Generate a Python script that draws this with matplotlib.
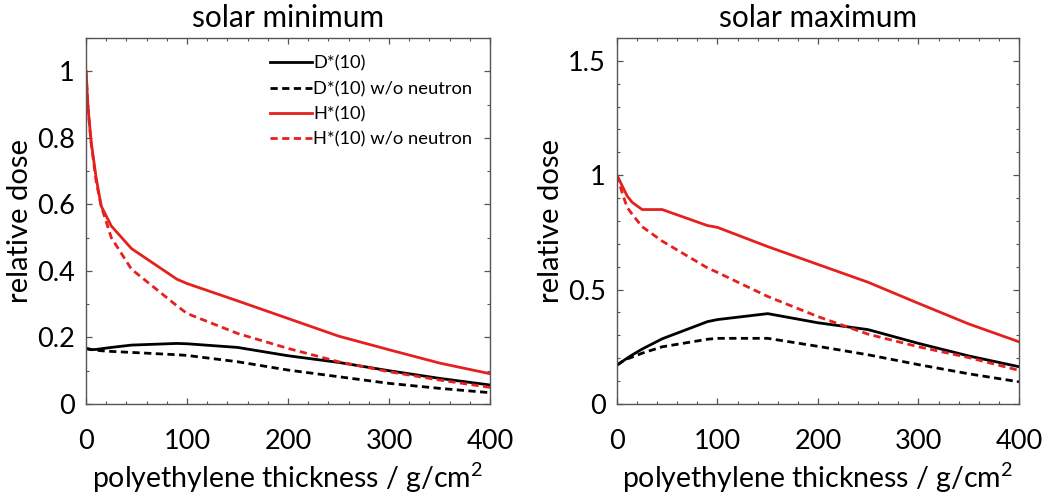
import matplotlib
matplotlib.use("Agg")
import matplotlib.pyplot as plt
from matplotlib.ticker import MultipleLocator

plt.rcParams['font.family'] = ['Lato', 'DejaVu Sans']
plt.rcParams['mathtext.fontset'] = 'custom'
plt.rcParams['mathtext.rm'] = 'Lato'
plt.rcParams['mathtext.it'] = 'Lato'

# polyethylene thickness, g/cm^2
thickness = [0, 2, 5, 10, 15, 25, 45, 90, 100, 150, 200, 250, 300, 350, 400]

# solar minimum
min_D = [0.167, 0.165, 0.163, 0.164, 0.166, 0.170, 0.177, 0.182, 0.181, 0.170, 0.145, 0.125, 0.100, 0.077, 0.057]
min_D_non = [0.167, 0.166, 0.164, 0.162, 0.160, 0.158, 0.155, 0.148, 0.146, 0.127, 0.102, 0.082, 0.062, 0.047, 0.034]
min_H = [1.0, 0.89, 0.79, 0.68, 0.595, 0.535, 0.467, 0.375, 0.362, 0.31, 0.257, 0.204, 0.163, 0.123, 0.091]
min_H_non = [1.0, 0.89, 0.785, 0.67, 0.595, 0.50, 0.405, 0.295, 0.272, 0.212, 0.167, 0.127, 0.097, 0.072, 0.050]

# solar maximum
max_D = [0.17, 0.176, 0.185, 0.20, 0.214, 0.24, 0.285, 0.36, 0.369, 0.395, 0.355, 0.325, 0.265, 0.21, 0.163]
max_D_non = [0.17, 0.176, 0.185, 0.197, 0.205, 0.222, 0.25, 0.283, 0.287, 0.287, 0.252, 0.215, 0.172, 0.132, 0.097]
max_H = [1.0, 0.982, 0.955, 0.91, 0.882, 0.85, 0.85, 0.78, 0.772, 0.688, 0.61, 0.532, 0.44, 0.35, 0.272]
max_H_non = [1.0, 0.97, 0.925, 0.86, 0.83, 0.775, 0.712, 0.595, 0.575, 0.47, 0.382, 0.305, 0.25, 0.203, 0.147]

labels = ['D*(10)', 'D*(10) w/o neutron', 'H*(10)', 'H*(10) w/o neutron']
RED = '#e4211f'
LW = 2.0
DASH = (2.6, 1.6)

fig = plt.figure(figsize=(10.44, 4.99), dpi=100)
ax1 = fig.add_axes([0.0824, 0.1904, 0.387, 0.7335])
ax2 = fig.add_axes([0.591, 0.1904, 0.385, 0.7335])


def draw(ax, d, dn, h, hn):
    ax.plot(thickness, d, color='black', lw=LW, label=labels[0])
    ax.plot(thickness, dn, color='black', lw=LW, dashes=DASH, label=labels[1])
    ax.plot(thickness, h, color=RED, lw=LW, label=labels[2])
    ax.plot(thickness, hn, color=RED, lw=LW, dashes=DASH, label=labels[3])
    ax.set_xlim(0, 400)
    ax.xaxis.set_major_locator(MultipleLocator(100))
    ax.xaxis.set_minor_locator(MultipleLocator(20))
    ax.yaxis.set_minor_locator(MultipleLocator(0.1))
    ax.tick_params(which='both', direction='in', top=True, right=True,
                   color='#555555', labelsize=19.5)
    ax.tick_params(axis='x', pad=18)
    ax.tick_params(axis='y', pad=8)
    ax.tick_params(which='major', length=4.5, width=0.9)
    ax.tick_params(which='minor', length=2.5, width=0.8)
    for s in ax.spines.values():
        s.set_color('#555555')
        s.set_linewidth(1.0)
    ax.set_xlabel(r'polyethylene thickness / g/cm$^2$', fontsize=20.5, labelpad=5)
    ax.set_ylabel('relative dose', fontsize=21, labelpad=3)


draw(ax1, min_D, min_D_non, min_H, min_H_non)
ax1.set_ylim(0, 1.1)
ax1.set_yticks([0, 0.2, 0.4, 0.6, 0.8, 1.0])
ax1.set_yticklabels(['0', '0.2', '0.4', '0.6', '0.8', '1'])
ax1.set_title('solar minimum', fontsize=21.5, pad=8)
ax1.legend(loc='upper left', frameon=False, fontsize=13.2, handlelength=2.3,
           handletextpad=0.05, labelspacing=0.5, borderaxespad=0, borderpad=0,
           bbox_to_anchor=(0.455, 0.952))

draw(ax2, max_D, max_D_non, max_H, max_H_non)
ax2.set_ylim(0, 1.6)
ax2.set_yticks([0, 0.5, 1.0, 1.5])
ax2.set_yticklabels(['0', '0.5', '1', '1.5'])
ax2.set_title('solar maximum', fontsize=21.5, pad=8)

fig.savefig('out.png', dpi=100)
